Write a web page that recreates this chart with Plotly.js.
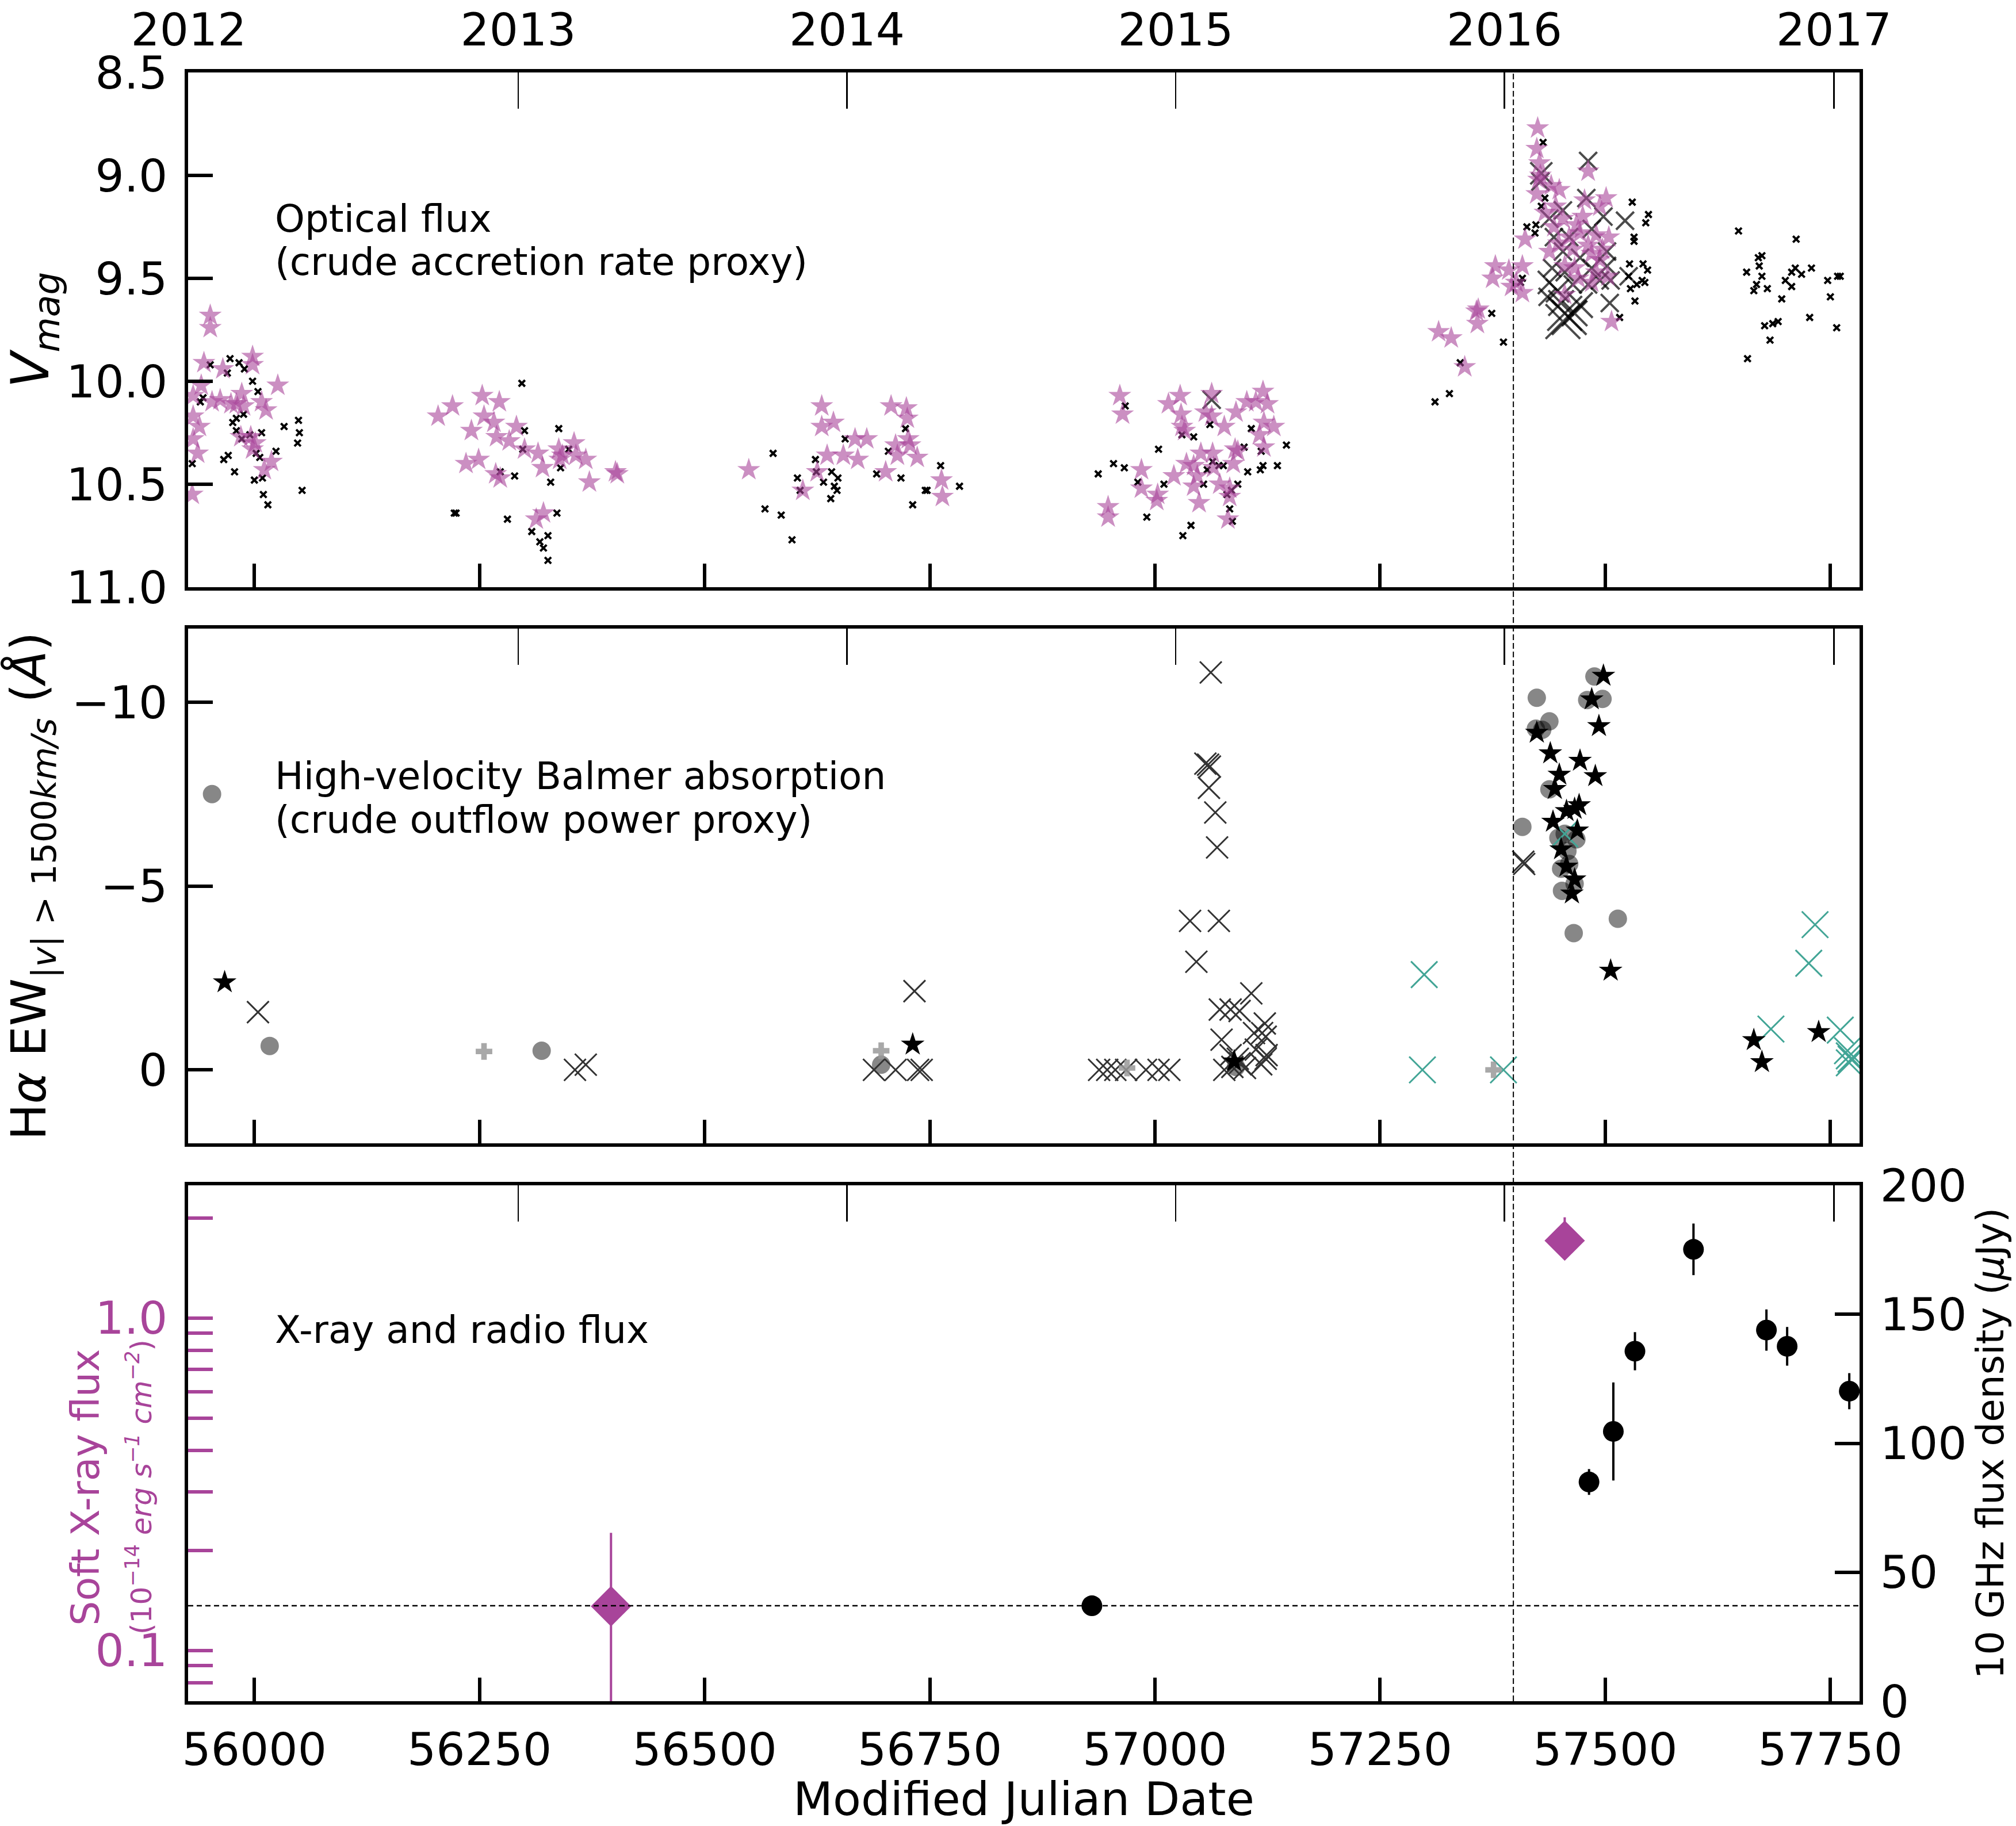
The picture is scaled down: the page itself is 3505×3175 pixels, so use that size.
<!DOCTYPE html>
<html><head><meta charset="utf-8">
<script src="https://cdn.plot.ly/plotly-3.0.1.min.js"></script>
<style>html,body{margin:0;padding:0;background:#fff;}</style>
</head><body>
<div id="chart" style="width:3505px;height:3175px;"></div>
<script>
// ---------------- DATA ----------------
// Top panel: optical V magnitude
const vStarMJD = [55951,55951,55944,55965,55998,55998,56026,55941,55932,55953,55962,55974,55980,55986,55988,56008,56013,55939,55932,55985,55996,56001,55998,55937,56019,56011,55931,55932,
 56204,56220,56253,56255,56272,56266,56241,56291,56269,56283,56300,56315,56338,56355,56357,56342,56368,56235,56249,56268,56273,56320,56339,56372,56401,56313,56321,56403,
 56549,56630,56630,56643,56636,56654,56625,56609,56667,56680,56670,56707,56724,56725,56712,56726,56728,56714,56736,56701,56763,56764,
 56961,56964,56948,56948,56985,56985,57003,57002,57015,57028,57029,57030,57033,57021,57035,57043,57047,57043,57049,57051,57063,57056,57063,57077,57064,57065,57072,57083,57083,57081,57089,57092,57087,57090,57102,57112,57120,57125,57121,57132,57116,57121,
 57411,57378,57393,57408,57375,57396,57401,57408,57357,57359,57358,57315,57329,57344,
 57425,57424,57427,57428,57426,57424,57449,57481,57501,57445,57477,57494,57468,57472,57490,57504,57481,57443,57453,57438,57464,57494,57455,57490,57503,57485,57455,57507,
 57460,57475,57485,57466,57448,57497,57470,57440,57433];
const vStarMag = [9.68,9.74,9.91,9.94,9.88,9.92,10.02,10.02,10.07,10.10,10.09,10.11,10.11,10.06,10.12,10.10,10.14,10.22,10.28,10.27,10.27,10.30,10.33,10.35,10.39,10.43,10.55,10.17,
 10.17,10.12,10.07,10.17,10.10,10.20,10.24,10.22,10.27,10.29,10.33,10.35,10.33,10.30,10.36,10.36,10.38,10.40,10.38,10.45,10.47,10.42,10.38,10.49,10.44,10.67,10.64,10.45,
 10.43,10.12,10.22,10.20,10.36,10.36,10.44,10.53,10.28,10.28,10.38,10.12,10.13,10.18,10.31,10.28,10.31,10.36,10.37,10.44,10.48,10.56,
 10.07,10.16,10.61,10.66,10.43,10.52,10.55,10.58,10.11,10.07,10.16,10.22,10.24,10.46,10.40,10.41,10.46,10.51,10.59,10.35,10.06,10.15,10.17,10.22,10.35,10.42,10.50,10.52,10.56,10.67,10.33,10.34,10.40,10.15,10.10,10.10,10.05,10.11,10.20,10.22,10.26,10.32,
 9.31,9.44,9.46,9.44,9.50,9.54,9.52,9.57,9.66,9.65,9.72,9.76,9.79,9.93,
 8.77,8.87,8.94,9.00,9.02,9.09,9.07,8.98,9.11,9.15,9.12,9.15,9.24,9.28,9.29,9.30,9.34,9.25,9.21,9.37,9.36,9.41,9.44,9.47,9.49,9.52,9.58,9.71,
 9.30,9.20,9.38,9.45,9.33,9.36,9.50,9.05,9.18];

const vSmallMJD = [55951,55973,55970,55983,55989,55998,56004,55943,55940,55988,55980,55976,55980,55986,55995,56008,56002,56006,56024,56033,56049,56050,56048,56053,55971,55966,55978,55931,56000,56009,56010,56015,
 56297,56300,56298,56338,56349,56340,56273,56289,56329,56222,56224,56281,56308,56326,56317,56321,56326,56336,
 56576,56567,56585,56597,56603,56606,56623,56624,56632,56641,56648,56644,56647,56640,56656,56691,56704,56718,56723,56731,56745,56747,56762,56783,
 56937,56954,56966,56967,56981,56991,57004,57010,57030,57043,57040,57031,57054,57058,57061,57064,57071,57076,57080,57085,57092,57083,57086,57099,57103,57107,57117,57120,57118,57136,57146,
 57413,57423,57422,57408,57406,57374,57387,57339,57327,57311,
 57431,57530,57548,57545,57532,57532,57527,57542,57547,57526,57528,57535,57541,57544,57533,57516,57433,57429,
 57648,57712,57670,57674,57671,57657,57674,57700,57707,57711,57718,57729,57707,57668,57665,57680,57696,57747,57758,57761,57750,57677,57686,57692,57727,57757,57683,57658];
const vSmallMag = [9.92,9.89,9.96,9.91,9.94,10.00,10.05,10.08,10.10,10.16,10.18,10.20,10.24,10.28,10.26,10.25,10.35,10.37,10.34,10.22,10.19,10.25,10.30,10.53,10.36,10.38,10.44,10.40,10.48,10.47,10.55,10.60,
 10.01,10.24,10.33,10.23,10.33,10.42,10.44,10.46,10.49,10.64,10.64,10.67,10.73,10.75,10.78,10.81,10.87,10.64,
 10.35,10.62,10.65,10.77,10.47,10.53,10.38,10.44,10.49,10.44,10.47,10.51,10.53,10.57,10.28,10.45,10.34,10.47,10.23,10.60,10.53,10.53,10.41,10.51,
 10.45,10.40,10.42,10.12,10.49,10.66,10.33,10.50,10.26,10.27,10.70,10.75,10.50,10.43,10.21,10.39,10.41,10.41,10.55,10.53,10.50,10.62,10.68,10.32,10.44,10.23,10.43,10.41,10.34,10.41,10.31,
 9.25,9.24,9.28,9.50,9.52,9.67,9.81,9.91,10.06,10.10,
 8.84,9.13,9.19,9.23,9.30,9.32,9.43,9.43,9.46,9.49,9.55,9.53,9.51,9.52,9.61,9.69,9.11,9.15,
 9.27,9.31,9.40,9.39,9.44,9.47,9.49,9.51,9.47,9.45,9.48,9.45,9.54,9.53,9.56,9.55,9.60,9.51,9.49,9.49,9.59,9.73,9.72,9.71,9.69,9.74,9.80,9.89];

const vBigXMJD = [57063,57481,57429,57428,57479,57453,57498,57522,57438,57443,57460,57485,57502,57453,57472,57441,57455,57485,57502,57506,57438,57447,57464,57481,57494,57451,57472,57526,57505,57455,57460,57453,57466,57436];
const vBigXMag = [10.09,8.93,8.99,9.03,9.11,9.17,9.20,9.22,9.21,9.30,9.30,9.26,9.37,9.37,9.40,9.45,9.47,9.45,9.44,9.51,9.52,9.56,9.53,9.53,9.51,9.62,9.63,9.49,9.62,9.67,9.69,9.71,9.67,9.59];
const vBigXSize = [31,31,38,31,31,31,31,31,31,31,31,31,31,31,31,31,31,31,31,31,40,40,31,31,31,44,44,31,31,60,60,60,44,31];

// Middle panel: H-alpha high-velocity EW
const ewCircMJD = [55953,56017,56319,56696,57090,57424,57438,57423,57430,57438,57408,57448,57455,57468,57458,57451,57460,57466,57452,57465,57514,57488,57480,57497];
const ewCircVal = [-7.50,-0.65,-0.52,-0.14,-0.08,-10.12,-9.48,-9.28,-9.25,-7.63,-6.61,-6.31,-6.42,-6.27,-5.95,-5.47,-5.60,-5.06,-4.87,-3.72,-4.11,-10.70,-10.06,-10.09];

const ewStarMJD = [55967,56731,57088,57498,57485,57493,57424,57439,57472,57449,57489,57444,57471,57466,57457,57442,57469,57451,57457,57466,57463,57506,57665,57674,57737];
const ewStarVal = [-2.38,-0.69,-0.23,-10.72,-10.08,-9.35,-9.17,-8.61,-8.41,-8.03,-7.99,-7.64,-7.20,-7.10,-7.04,-6.75,-6.51,-6.00,-5.53,-5.18,-4.80,-2.70,-0.81,-0.21,-1.03];

const ewDarkXMJD = [56004,56356,56368,56688,56712,56737,56741,56733,56938,56947,56956,56968,56990,57004,57016,
 57062,57056,57059,57061,57060,57067,57069,57039,57071,57046,57107,57084,57072,57094,57122,57074,57119,57123,57110,57084,57092,57112,57123,57124,57086,57094,57100,57118,57077,57409,57410];
const ewDarkXVal = [-1.57,0.0,-0.14,0,0,0,0,-2.14,0,0,0,0,0,0,0,
 -10.81,-8.33,-8.30,-8.25,-7.67,-7.00,-6.05,-4.05,-4.05,-2.94,-2.08,-1.64,-1.64,-1.60,-1.26,-0.82,-1.00,-0.90,-1.00,-0.40,-0.30,-0.55,-0.30,-0.40,-0.08,-0.18,-0.05,-0.15,0,-5.66,-5.60];

const ewTealMJD = [57299,57297,57387,57455,57684,57733,57726,57761,57769,57771,57773,57771];
const ewTealVal = [-2.59,0.0,0.0,-6.42,-1.11,-3.95,-2.90,-1.08,-0.52,-0.38,-0.29,-0.19];

const ewPlusMJD = [56255,56696,56969,57376];
const ewPlusVal = [-0.50,-0.52,-0.05,0.0];

// Bottom panel: X-ray (left, log) and radio (right)
const xrayMJD = [56396,57455];
const xrayFlux = [0.1357,1.708];
const xrayErrPlus = [0.090,0.30];
const xrayErrMinus = [0.0857,0.19];

const radioMJD = [56930,57482,57509,57533,57598,57679,57702,57771];
const radioFlux = [37,85,104.6,135.7,175.2,143.9,137.6,120.2];
const radioErr = [0,5,19,7.4,10,8,7.5,7];

const radioLimit = 37;
const eventMJD = 57398;

// Axis tick definitions
const mjdTicks = [56000,56250,56500,56750,57000,57250,57500,57750];
const mjdTickText = ['56000','56250','56500','56750','57000','57250','57500','57750'];
const yearTickMJD = [55927,56293,56658,57023,57388,57754];
const yearTickText = ['2012','2013','2014','2015','2016','2017'];
const vTicks = [8.5,9.0,9.5,10.0,10.5,11.0];
const vTickText = ['8.5','9.0','9.5','10.0','10.5','11.0'];
const ewTicks = [-10,-5,0];
const ewTickText = ['\u221210','\u22125','0'];
const xrayMajor = [0.1,1.0];
const xrayMajorText = ['0.1','1.0'];
const xrayMinor = [0.07,0.08,0.09,0.2,0.3,0.4,0.5,0.6,0.7,0.8,0.9,2.0];
const radioTicks = [0,50,100,150,200];

// ---------------- STYLE ----------------
const PURPLE = '#a8449a';
const TEAL = '#42a596';
const DARK = '#333333';
const XR = [55926.4, 57782.4];

const traces = [
  // top panel
  {x: vSmallMJD, y: vSmallMag, xaxis:'x3', yaxis:'y3', mode:'markers', type:'scatter',
   marker:{symbol:'x-thin', size:11, line:{color:'black', width:4}}},
  {x: vBigXMJD, y: vBigXMag, xaxis:'x3', yaxis:'y3', mode:'markers', type:'scatter',
   marker:{symbol:'x-thin', size:vBigXSize, line:{color:'black', width:4}}},
  {x: vStarMJD, y: vStarMag, xaxis:'x3', yaxis:'y3', mode:'markers', type:'scatter',
   marker:{symbol:'star', size:30, color:PURPLE, opacity:0.6, line:{width:0}}},
  // middle panel
  {x: ewCircMJD, y: ewCircVal, xaxis:'x2', yaxis:'y2', mode:'markers', type:'scatter',
   marker:{symbol:'circle', size:32, color:'black', opacity:0.47, line:{width:0}}},
  {x: ewDarkXMJD, y: ewDarkXVal, xaxis:'x2', yaxis:'y2', mode:'markers', type:'scatter',
   marker:{symbol:'x-thin', size:38, line:{color:DARK, width:3}}},
  {x: ewTealMJD, y: ewTealVal, xaxis:'x2', yaxis:'y2', mode:'markers', type:'scatter',
   marker:{symbol:'x-thin', size:46, line:{color:TEAL, width:3}}},
  {x: ewPlusMJD, y: ewPlusVal, xaxis:'x2', yaxis:'y2', mode:'markers', type:'scatter',
   marker:{symbol:'cross', size:24, color:'#999999', opacity:0.85, line:{width:0}}},
  {x: ewStarMJD, y: ewStarVal, xaxis:'x2', yaxis:'y2', mode:'markers', type:'scatter',
   marker:{symbol:'star', size:31, color:'black', line:{width:0}}},
  // bottom panel
  {x: xrayMJD, y: xrayFlux, xaxis:'x', yaxis:'y', mode:'markers', type:'scatter',
   marker:{symbol:'diamond', size:54, color:PURPLE, line:{width:0}},
   error_y:{type:'data', symmetric:false, array:xrayErrPlus, arrayminus:xrayErrMinus, color:PURPLE, thickness:4, width:0}},
  {x: radioMJD, y: radioFlux, xaxis:'x', yaxis:'y4', mode:'markers', type:'scatter',
   marker:{symbol:'circle', size:36, color:'black', line:{width:0}},
   error_y:{type:'data', array:radioErr, color:'black', thickness:4, width:0}},
  // carriers for the year (top) axes
  {x: [], y: [], xaxis:'x4', yaxis:'y3', mode:'markers', type:'scatter', hoverinfo:'skip'},
  {x: [], y: [], xaxis:'x5', yaxis:'y2', mode:'markers', type:'scatter', hoverinfo:'skip'},
  {x: [], y: [], xaxis:'x6', yaxis:'y', mode:'markers', type:'scatter', hoverinfo:'skip'}
];

const FONT = 'DejaVu Sans, Liberation Sans, sans-serif';

function mjdAxis(anchor, labels) {
  return {
    domain:[0,1], anchor:anchor, range:XR, showgrid:false, zeroline:false,
    showline:true, linecolor:'black', linewidth:6, mirror:true,
    ticks:'inside', ticklen:41, tickwidth:6, tickcolor:'black',
    tickmode:'array', tickvals:mjdTicks, ticktext:mjdTickText, showticklabels:labels,
    tickfont:{size:79, color:'black'}
  };
}
function yearAxis(over, anchor, labels) {
  return {
    overlaying:over, anchor:anchor, side:'top', range:XR, showgrid:false, zeroline:false,
    showline:false, ticks:'inside', ticklen:63, tickwidth:2.5, tickcolor:'black',
    tickmode:'array', tickvals:yearTickMJD, ticktext:yearTickText, showticklabels:labels,
    tickfont:{size:79, color:'black'}
  };
}

const xa = mjdAxis('y', true);
xa.title = {text:'Modified Julian Date', font:{size:80}, standoff:28};
xa.ticklabelstandoff = 10;

const layout = {
  width:3505, height:3175,
  margin:{l:327, r:272, t:126, b:217, pad:0},
  paper_bgcolor:'white', plot_bgcolor:'white',
  showlegend:false,
  font:{family:FONT, size:79, color:'black'},
  xaxis: xa,
  xaxis2: mjdAxis('y2', false),
  xaxis3: mjdAxis('y3', false),
  xaxis4: Object.assign(yearAxis('x3','y3', true), {ticklabelstandoff:30}),
  xaxis5: yearAxis('x2','y2', false),
  xaxis6: yearAxis('x','y', false),
  yaxis3: {
    domain:[0.6840,1.0], anchor:'x3', range:[11.0,8.5], showgrid:false, zeroline:false,
    showline:true, linecolor:'black', linewidth:6, mirror:true,
    ticks:'inside', ticklen:43, tickwidth:6, tickcolor:'black',
    tickmode:'array', tickvals:vTicks, ticktext:vTickText, tickfont:{size:79}, ticklabelstandoff:14,
    title:{text:'<i>V<sub>mag</sub></i>', font:{size:90}, standoff:20}
  },
  yaxis2: {
    domain:[0.3425,0.6585], anchor:'x2', range:[2,-12], showgrid:false, zeroline:false,
    showline:true, linecolor:'black', linewidth:6, mirror:true,
    ticks:'inside', ticklen:43, tickwidth:6, tickcolor:'black',
    tickmode:'array', tickvals:ewTicks, ticktext:ewTickText, tickfont:{size:79}, ticklabelstandoff:14,
    title:{text:'H<i>\u03b1</i> EW<sub><i>|v|</i> > 1500<i>km/s</i></sub> (<i>\u00c5</i>)', font:{size:84}, standoff:20}
  },
  yaxis: {
    domain:[0,0.3167], anchor:'x', type:'log', range:[Math.log10(0.0703), Math.log10(2.505)],
    showgrid:false, zeroline:false, showline:true, linecolor:'black', linewidth:6, mirror:false,
    ticks:'inside', ticklen:43, tickwidth:6, tickcolor:PURPLE,
    tickmode:'array', tickvals:xrayMajor, ticktext:xrayMajorText, tickfont:{size:79, color:PURPLE}, ticklabelstandoff:14,
    minor:{tickmode:'array', tickvals:xrayMinor, ticks:'inside', ticklen:43, tickwidth:6, tickcolor:PURPLE, showgrid:false}
  },
  yaxis4: {
    overlaying:'y', side:'right', anchor:'x', range:[0,200], showgrid:false, zeroline:false,
    showline:true, linecolor:'black', linewidth:6,
    ticks:'inside', ticklen:43, tickwidth:6, tickcolor:'black',
    tickmode:'array', tickvals:radioTicks, tickfont:{size:79}, ticklabelstandoff:14,
    title:{text:'10 GHz flux density (<i>\u03bc</i>Jy)', font:{size:66}, standoff:20}
  },
  shapes: [
    {type:'line', xref:'x', yref:'paper', x0:eventMJD, x1:eventMJD, y0:0, y1:1,
     line:{color:'black', width:2, dash:'10px,5px'}},
    {type:'line', xref:'paper', yref:'y4', x0:0, x1:1, y0:radioLimit, y1:radioLimit,
     line:{color:'black', width:2.5, dash:'9px,6px'}}
  ],
  annotations: [
    {text:'Optical flux', xref:'paper', yref:'paper', x:0.0513, y:0.9103, xanchor:'left', yanchor:'middle', showarrow:false, font:{size:66}},
    {text:'(crude accretion rate proxy)', xref:'paper', yref:'paper', x:0.0513, y:0.8838, xanchor:'left', yanchor:'middle', showarrow:false, font:{size:66}},
    {text:'High-velocity Balmer absorption', xref:'paper', yref:'paper', x:0.0513, y:0.5678, xanchor:'left', yanchor:'middle', showarrow:false, font:{size:66}},
    {text:'(crude outflow power proxy)', xref:'paper', yref:'paper', x:0.0513, y:0.5413, xanchor:'left', yanchor:'middle', showarrow:false, font:{size:66}},
    {text:'X-ray and radio flux', xref:'paper', yref:'paper', x:0.0513, y:0.2278, xanchor:'left', yanchor:'middle', showarrow:false, font:{size:66}},
    // left (X-ray) axis title, two lines of different sizes
    {text:'Soft X-ray flux', xref:'paper', yref:'paper', x:-0.0613, y:0.1314, xanchor:'center', yanchor:'middle', textangle:-90, showarrow:false, font:{size:68, color:PURPLE}},
    {text:'(10<sup>\u221214</sup> <i>erg s<sup>\u22121</sup> cm<sup>\u22122</sup></i>)', xref:'paper', yref:'paper', x:-0.0289, y:0.1314, xanchor:'center', yanchor:'middle', textangle:-90, showarrow:false, font:{size:50, color:PURPLE}}
  ]
};

Plotly.newPlot('chart', traces, layout, {staticPlot:true, displayModeBar:false});
</script>
</body></html>
